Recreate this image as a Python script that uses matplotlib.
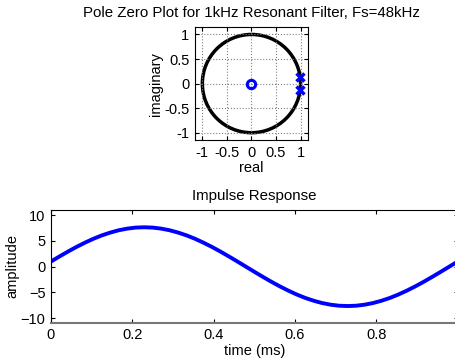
import matplotlib
matplotlib.use("Agg")
import matplotlib.pyplot as plt
from matplotlib.patches import Circle
import numpy as np

plt.rcParams['font.family'] = ['Liberation Sans', 'DejaVu Sans']
plt.rcParams['font.size'] = 10.5

# zeros / poles
zeros_re = [0.0]
zeros_im = [0.0]
poles_re = [0.991, 0.991]
poles_im = [0.131, -0.131]

# impulse response samples (49 samples over 1 ms)
amplitude = [1.00, 1.98, 2.93, 3.83, 4.66, 5.42, 6.08, 6.63, 7.08, 7.40, 7.60, 7.66,
             7.60, 7.40, 7.08, 6.63, 6.08, 5.42, 4.66, 3.83, 2.93, 1.98, 1.00, 0.00,
             -1.00, -1.98, -2.93, -3.83, -4.66, -5.42, -6.08, -6.63, -7.08, -7.40, -7.60, -7.66,
             -7.60, -7.40, -7.08, -6.63, -6.08, -5.42, -4.66, -3.83, -2.93, -1.98, -1.00, 0.00,
             1.00]
time_ms = [n / 48 for n in range(len(amplitude))]

fig = plt.figure(figsize=(4.56, 3.62), dpi=100)

# pole zero plot
ax1 = fig.add_axes([0.4276, 0.613, 0.2478, 0.3122])
ax1.add_patch(Circle((0, 0), 1.0, fill=False, color='black', lw=2.5))
ax1.plot(zeros_re, zeros_im, 'o', ms=6, mfc='none', mec='blue', mew=2.2)
ax1.plot(poles_re, poles_im, 'x', ms=6, color='blue', mew=2.5)
ax1.set_xlim(-1.15, 1.15)
ax1.set_ylim(-1.15, 1.15)
ax1.set_xticks([-1, -0.5, 0, 0.5, 1])
ax1.set_xticklabels(['-1', '-0.5', '0', '0.5', '1'])
ax1.set_yticks([-1, -0.5, 0, 0.5, 1])
ax1.set_yticklabels(['-1', '-0.5', '0', '0.5', '1'])
ax1.grid(True, linestyle=':', color='gray', lw=0.8)
ax1.tick_params(direction='in', top=True, right=True, length=3, pad=4)
ax1.set_xlabel('real', labelpad=1)
ax1.set_ylabel('imaginary', labelpad=1)
ax1.set_title('Pole Zero Plot for 1kHz Resonant Filter, Fs=48kHz', fontsize=10.8, pad=7)

# impulse response
ax2 = fig.add_axes([0.1118, 0.1086, 0.892, 0.311])
ax2.plot(time_ms, amplitude, color='blue', lw=2.8)
ax2.set_xlim(0, 1)
ax2.set_ylim(-10.9, 11)
ax2.set_xticks([0, 0.2, 0.4, 0.6, 0.8])
ax2.set_xticklabels(['0', '0.2', '0.4', '0.6', '0.8'])
ax2.set_yticks([-10, -5, 0, 5, 10])
ax2.tick_params(direction='in', top=True, right=True, length=3, pad=4)
ax2.spines['bottom'].set_color('#777777')
ax2.spines['bottom'].set_linewidth(1.5)
ax2.set_xlabel('time (ms)', labelpad=1)
ax2.set_ylabel('amplitude', labelpad=1)
ax2.set_title('Impulse Response', fontsize=10.8, pad=7)

fig.savefig('out.png', dpi=100)
